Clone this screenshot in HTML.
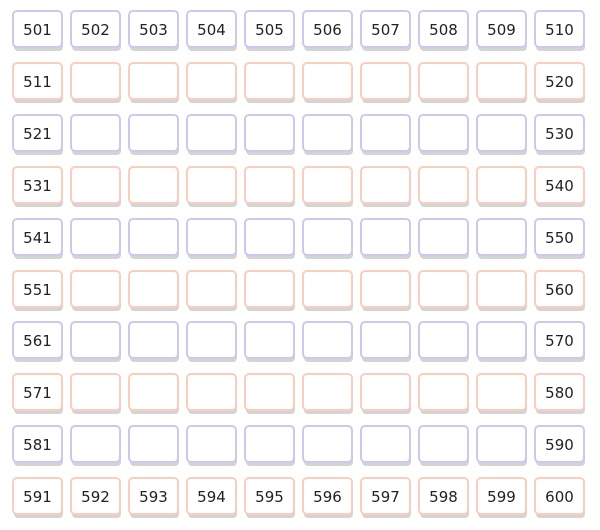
<!DOCTYPE html>
<html><head><meta charset="utf-8"><style>
body{margin:0;width:600px;height:530px;background:#fff;position:relative;overflow:hidden;font-family:"DejaVu Sans","Liberation Sans",sans-serif}
.card{position:absolute;width:47px;height:34px;border:2px solid;border-radius:5px;background:#fff;box-sizing:content-box;display:flex;align-items:center;justify-content:center;font-size:15px;padding-top:2px;height:32px;color:#222;box-shadow:1px 4px 0 -1px #d4d4d4}
.b{border-color:#cdc8ec}.o{border-color:#f8cfbd}
</style></head><body>
<script>
const startNum=501;const cols=10;const rows=10;
for(let r=0;r<rows;r++){for(let c=0;c<cols;c++){
const n=startNum+r*cols+c;
const d=document.createElement('div');
d.className='card '+(r%2?'o':'b');
d.style.left=(12+c*58)+'px';d.style.top=(10+r*51.9)+'px';
const show=r===0||r===rows-1||c===0||c===cols-1;
if(show)d.textContent=n;


document.body.appendChild(d);}}
</script>
</body></html>
